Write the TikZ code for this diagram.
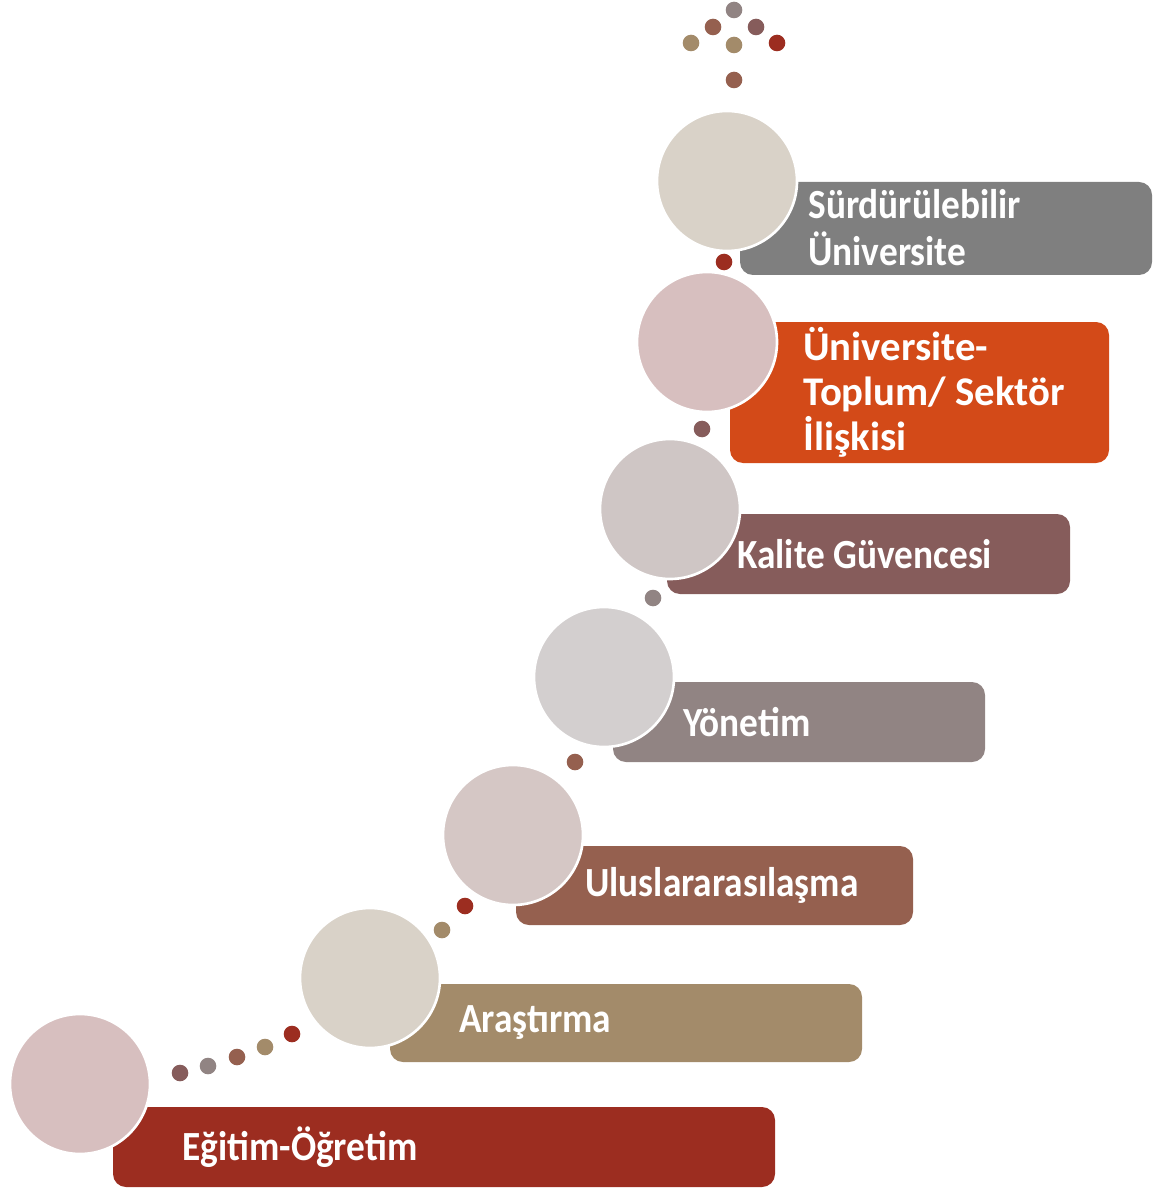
\documentclass[tikz,border=0pt]{standalone}
\usepackage{fontspec}
\setmainfont{Carlito}
\newfontfamily\narrowfont{Carlito}[FakeStretch=0.9]

% bar colours
\definecolor{barRed}{HTML}{9C2D20}
\definecolor{barTan}{HTML}{A38B6A}
\definecolor{barBrown}{HTML}{95604F}
\definecolor{barMauve}{HTML}{918483}
\definecolor{barPlum}{HTML}{865C5B}
\definecolor{barOrange}{HTML}{D34A18}
\definecolor{barGrey}{HTML}{7F7F7F}
% disc colours
\definecolor{discRose}{HTML}{D7BFBF}
\definecolor{discSand}{HTML}{D9D2C8}
\definecolor{discBlush}{HTML}{D5C7C5}
\definecolor{discAsh}{HTML}{D3CFCF}
\definecolor{discTaupe}{HTML}{CFC6C5}

\begin{document}
\begin{tikzpicture}[x=0.02cm,y=-0.02cm,
	bar/.style={rounded corners=0.26cm},
	disc/.style={draw=white,line width=1.5pt},
	lbl/.style={anchor=west,align=left,inner sep=0pt,text=white,
		font=\narrowfont\bfseries\fontsize{23.6}{26.7}\selectfont}]
\useasboundingbox (0,0) rectangle (1171,1189);

%========================================
% BARS (behind the discs)
%========================================
\fill[bar,barRed]    (113,1107) rectangle (775,1187);
\fill[bar,barTan]    (390,984)  rectangle (862,1062);
\fill[bar,barBrown]  (516,846)  rectangle (913,925);
\fill[bar,barMauve]  (613,682)  rectangle (985,762);
\fill[bar,barPlum]   (667,514)  rectangle (1070,594);
\fill[bar,barOrange] (730,322)  rectangle (1109,463);
\fill[bar,barGrey]   (740,182)  rectangle (1152,275);

%========================================
% DISCS (steps)
%========================================
\filldraw[disc,fill=discRose]  (80,1084) circle (70);
\filldraw[disc,fill=discSand]  (370,978) circle (70);
\filldraw[disc,fill=discBlush] (513,835) circle (70);
\filldraw[disc,fill=discAsh]   (604,677) circle (70);
\filldraw[disc,fill=discTaupe] (670,509) circle (70);
\filldraw[disc,fill=discRose]  (707,342) circle (70);
\filldraw[disc,fill=discSand]  (727,181) circle (70);

%========================================
% SMALL DOTS along the path
%========================================
\foreach \x/\y/\c in {180/1073/barPlum,208/1066/barMauve,237/1057/barBrown,
	265/1047/barTan,292/1034/barRed,
	442/930/barTan,465/906/barRed,575/762/barBrown,653/598/barMauve,
	702/429/barPlum,724/262/barRed}
\fill[\c] (\x,\y) circle (8.3);

% top cluster
\foreach \x/\y/\c in {734/10/barMauve,713/27/barBrown,756/27/barPlum,
	691/43/barTan,734/45/barTan,777/43/barRed,734/80/barBrown}
\fill[\c] (\x,\y) circle (8.3);

%========================================
% LABELS
%========================================
\node[lbl] (egitim)  at (182,1147) {Eğitim-Öğretim};
\node[lbl] (arastir) at (459,1023) {Araştırma};
\node[lbl] (ulusl)   at (585,885)  {Uluslararasılaşma};
\node[lbl] (yonet)   at (683,722)  {Yönetim};
\node[lbl] (kalite)  at (737,554)  {Kalite Güvencesi};
\node[lbl,font=\bfseries\fontsize{23.2}{25.6}\selectfont]
	(toplum) at (803,392) {Üniversite-\\Toplum/ Sektör\\İlişkisi};
\node[lbl] (surdur)  at (808,228)  {Sürdürülebilir\\Üniversite};
\end{tikzpicture}
\end{document}
